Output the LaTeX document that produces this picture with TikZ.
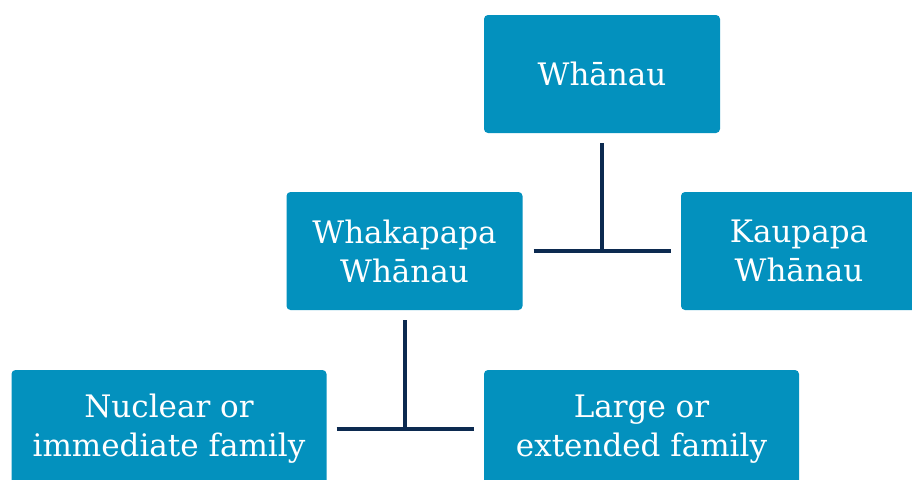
\documentclass[tikz,border=0pt]{standalone}
\usepackage{fontspec}
\setmainfont{DejaVu Serif}
\definecolor{boxblue}{HTML}{0391BE}
\definecolor{linknavy}{HTML}{0C2A50}
\begin{document}
\begin{tikzpicture}[x=1pt,y=-1pt,
  famibox/.style={fill=boxblue, rounded corners=4pt, text=white, align=center,
    inner sep=0pt, font=\fontsize{31}{39}\selectfont},
  smallbox/.style={famibox, minimum width=236pt, minimum height=118pt},
  widebox/.style={famibox, minimum width=315pt, minimum height=118pt},
  link/.style={draw=linknavy, line width=4pt}]
\useasboundingbox (0,0) rectangle (912,479);

\node[smallbox] (whanau) at (602,74) {Whānau};
\node[smallbox] (whakapapa) at (404.5,251) {Whakapapa\\Whānau};
\node[smallbox] (kaupapa) at (799,251) {Kaupapa\\Whānau};
\node[widebox] (nuclear) at (169,429) {Nuclear or\\immediate family};
\node[widebox] (extended) at (641.5,429) {Large or\\extended family};

% upper branch
\coordinate (j1) at (whanau.south |- whakapapa.east);
\draw[link] ([yshift=-10pt]whanau.south) -- (j1);
\draw[link] ([xshift=11pt]whakapapa.east) -- ([xshift=-10pt]kaupapa.west);

% lower branch
\coordinate (j2) at (whakapapa.south |- nuclear.east);
\draw[link] ([yshift=-10pt]whakapapa.south) -- (j2);
\draw[link] ([xshift=10pt]nuclear.east) -- ([xshift=-10pt]extended.west);
\end{tikzpicture}
\end{document}
